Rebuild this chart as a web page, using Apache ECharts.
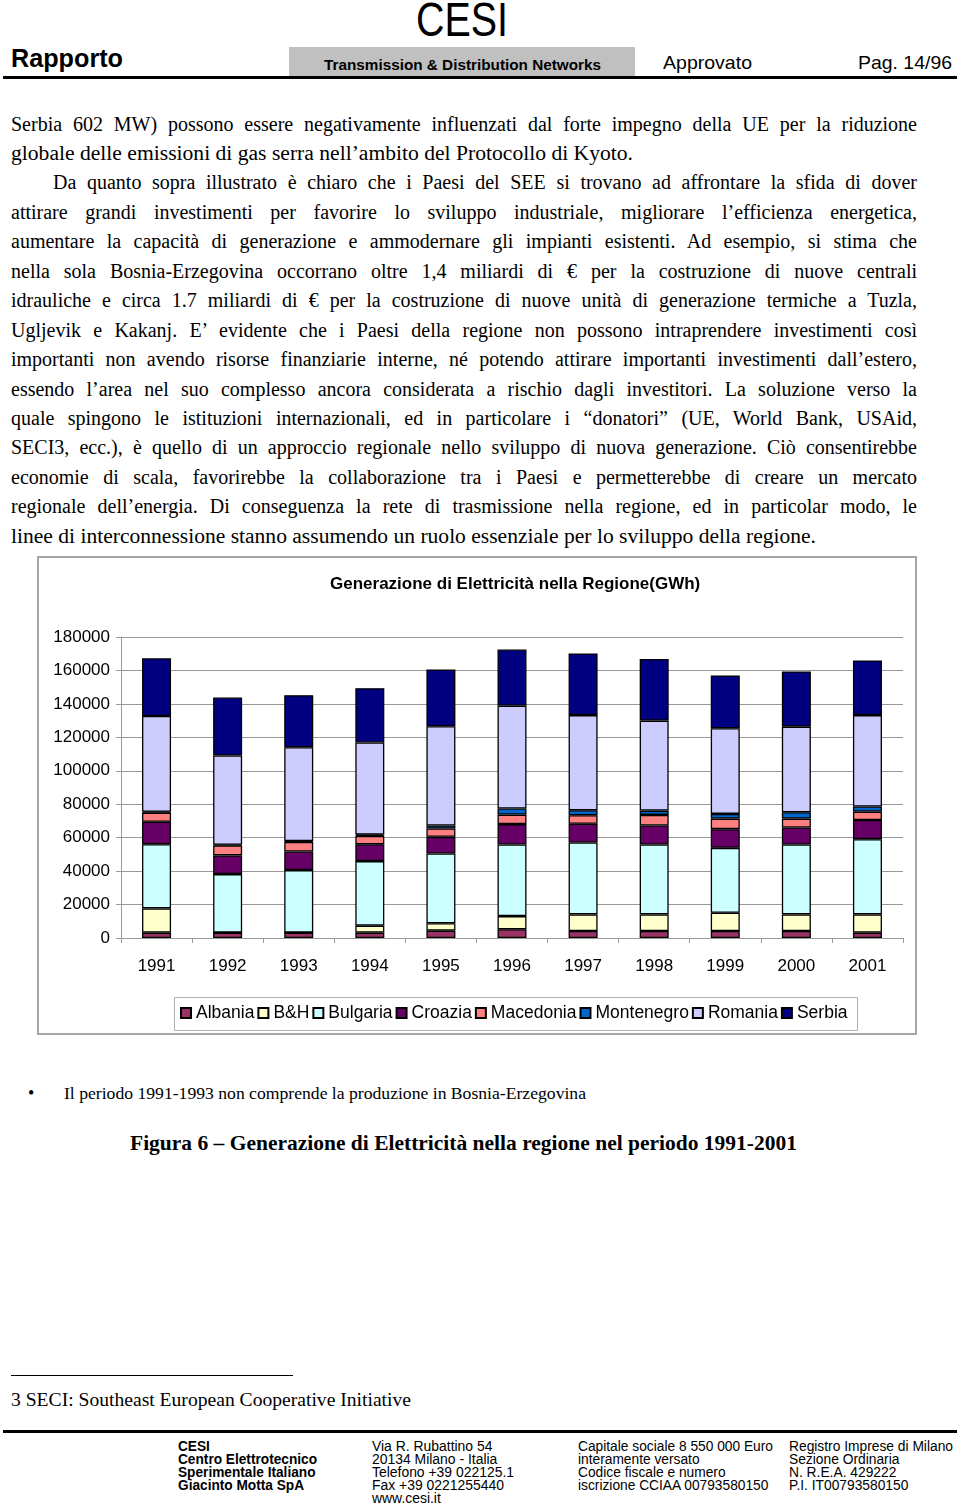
<!DOCTYPE html>
<html>
<head>
<meta charset="utf-8">
<script src="https://cdn.jsdelivr.net/npm/echarts@6/dist/echarts.min.js"></script>
<style>
html,body{margin:0;padding:0;background:#fff;width:960px;height:1506px;overflow:hidden;}
.t{position:absolute;white-space:nowrap;line-height:1;transform-origin:0 0;color:#000;}
.serif{font-family:"Liberation Serif","Times New Roman",serif;}
.sans{font-family:"Liberation Sans",Arial,sans-serif;}
.rule{position:absolute;background:#000;}
.foot{position:absolute;font-family:"Liberation Sans",Arial,sans-serif;font-size:14px;line-height:13px;transform-origin:0 0;white-space:nowrap;}
.foot span{display:inline-block;}
</style>
</head>
<body>
<!-- header -->
<div class="t sans" style="left:416px;top:-4px;font-size:48px;" data-w="92">CESI</div>
<div class="t sans" style="left:11px;top:46px;font-size:25px;font-weight:bold;" data-w="112">Rapporto</div>
<div style="position:absolute;left:289px;top:47px;width:346px;height:30px;background:#c0c0c0;"></div>
<div class="t sans" style="left:324px;top:57px;font-size:15px;font-weight:bold;" data-w="277">Transmission &amp; Distribution Networks</div>
<div class="t sans" style="left:663px;top:53px;font-size:19px;" data-w="89">Approvato</div>
<div class="t sans" style="left:858px;top:53px;font-size:19px;" data-w="94">Pag. 14/96</div>
<div class="rule" style="left:3px;top:76px;width:954px;height:3px;"></div>

<!-- body text -->
<div id="body"></div>

<!-- chart -->
<div id="chart" style="position:absolute;left:37px;top:556px;width:880px;height:479px;"></div>

<div class="t serif" style="left:28px;top:1084px;font-size:18px;">•</div>
<div class="t serif" style="left:64px;top:1086px;font-size:16.5px;" data-w="522">Il periodo 1991-1993 non comprende la produzione in Bosnia-Erzegovina</div>
<div class="t serif" style="left:130px;top:1132px;font-size:22px;font-weight:bold;" data-w="667">Figura 6 – Generazione di Elettricità nella regione nel periodo 1991-2001</div>

<div class="rule" style="left:11px;top:1375px;width:282px;height:1px;"></div>
<div class="t serif" style="left:11px;top:1390px;font-size:19px;" data-w="400">3 SECI: Southeast European Cooperative Initiative</div>

<div class="rule" style="left:3px;top:1430px;width:954px;height:3px;"></div>
<div class="foot" style="left:178px;top:1440px;font-weight:bold;" data-cw="139">
<div><span>CESI</span></div><div><span data-ref="1">Centro Elettrotecnico</span></div><div><span>Sperimentale Italiano</span></div><div><span>Giacinto Motta SpA</span></div>
</div>
<div class="foot" style="left:372px;top:1440px;" data-cw="142">
<div><span>Via R. Rubattino 54</span></div><div><span>20134 Milano - Italia</span></div><div><span data-ref="1">Telefono +39 022125.1</span></div><div><span>Fax +39 0221255440</span></div><div><span>www.cesi.it</span></div>
</div>
<div class="foot" style="left:578px;top:1440px;" data-cw="195">
<div><span data-ref="1">Capitale sociale 8 550 000 Euro</span></div><div><span>interamente versato</span></div><div><span>Codice fiscale e numero</span></div><div><span>iscrizione CCIAA 00793580150</span></div>
</div>
<div class="foot" style="left:789px;top:1440px;" data-cw="164">
<div><span data-ref="1">Registro Imprese di Milano</span></div><div><span>Sezione Ordinaria</span></div><div><span>N. R.E.A. 429222</span></div><div><span>P.I. IT00793580150</span></div>
</div>

<script>
// ---------- page text ----------
const bodyLines = [
  ["Serbia 602 MW) possono essere negativamente influenzati dal forte impegno della UE per la riduzione", 11, 906, true],
  ["globale delle emissioni di gas serra nell’ambito del Protocollo di Kyoto.", 11, 622, false],
  ["Da quanto sopra illustrato è chiaro che i Paesi del SEE si trovano ad affrontare la sfida di dover", 53, 864, true],
  ["attirare grandi investimenti per favorire lo sviluppo industriale, migliorare l’efficienza energetica,", 11, 906, true],
  ["aumentare la capacità di generazione e ammodernare gli impianti esistenti. Ad esempio, si stima che", 11, 906, true],
  ["nella sola Bosnia-Erzegovina occorrano oltre 1,4 miliardi di € per la costruzione di nuove centrali", 11, 906, true],
  ["idrauliche e circa 1.7 miliardi di € per la costruzione di nuove unità di generazione termiche a Tuzla,", 11, 906, true],
  ["Ugljevik e Kakanj. E’ evidente che i Paesi della regione non possono intraprendere investimenti così", 11, 906, true],
  ["importanti non avendo risorse finanziarie interne, né potendo attirare importanti investimenti dall’estero,", 11, 906, true],
  ["essendo l’area nel suo complesso ancora considerata a rischio dagli investitori. La soluzione verso la", 11, 906, true],
  ["quale spingono le istituzioni internazionali, ed in particolare i “donatori” (UE, World Bank, USAid,", 11, 906, true],
  ["SECI3, ecc.), è quello di un approccio regionale nello sviluppo di nuova generazione. Ciò consentirebbe", 11, 906, true],
  ["economie di scala, favorirebbe la collaborazione tra i Paesi e permetterebbe di creare un mercato", 11, 906, true],
  ["regionale dell’energia. Di conseguenza la rete di trasmissione nella regione, ed in particolar modo, le", 11, 906, true],
  ["linee di interconnessione stanno assumendo un ruolo essenziale per lo sviluppo della regione.", 11, 805, false]
];
const bodyEl = document.getElementById('body');
bodyLines.forEach((l, i) => {
  const d = document.createElement('div');
  d.className = 't serif';
  d.style.left = l[1] + 'px';
  d.style.top = (113.5 + i * 29.45) + 'px';
  d.style.fontSize = '20px';
  d.textContent = l[0];
  if (l[3]) d.dataset.j = l[2]; else d.dataset.w = l[2];
  bodyEl.appendChild(d);
});
document.querySelectorAll('[data-j]').forEach(el => {
  const target = +el.dataset.j;
  const nat = el.getBoundingClientRect().width;
  const spaces = (el.textContent.match(/ /g) || []).length;
  let ws = (target - nat) / spaces;
  if (ws < -2) { el.style.transform = 'scaleX(' + (target / nat) + ')'; }
  else el.style.wordSpacing = ws + 'px';
});
document.querySelectorAll('[data-w]').forEach(el => {
  const w = +el.dataset.w;
  const nat = el.getBoundingClientRect().width;
  el.style.transform = 'scaleX(' + (w / nat) + ')';
});
document.querySelectorAll('[data-cw]').forEach(el => {
  const w = +el.dataset.cw;
  const ref = el.querySelector('[data-ref]');
  const nat = ref.getBoundingClientRect().width;
  el.style.transform = 'scaleX(' + (w / nat) + ')';
});

// ---------- chart data ----------
const years = ['1991','1992','1993','1994','1995','1996','1997','1998','1999','2000','2001'];
const countries = ['Albania','B&H','Bulgaria','Croazia','Macedonia','Montenegro','Romania','Serbia'];
const colors = ['#993366','#FFFFCC','#CCFFFF','#660066','#FF8080','#0066CC','#CCCCFF','#000080'];
const albania    = [3200, 3200, 3200, 3200, 4400, 5200, 4200, 4200, 4200, 4200, 3200];
const bih        = [14500, 0, 0, 4200, 4400, 7900, 9900, 9900, 10900, 9900, 10900];
const bulgaria   = [38400, 35000, 37400, 38600, 41700, 42800, 43000, 41800, 38800, 41800, 45000];
const croazia    = [13400, 11200, 11100, 10100, 10000, 12200, 11200, 11400, 11200, 10200, 11500];
const macedonia  = [5500, 5900, 5800, 5000, 5000, 5700, 5100, 6300, 6300, 5300, 5000];
const montenegro = [500, 500, 500, 700, 1800, 3600, 3000, 2600, 2800, 3800, 3000];
const romania    = [57300, 53300, 56100, 55100, 59300, 61500, 56900, 53800, 51200, 51200, 54700];
const serbia     = [34500, 34700, 31100, 32500, 34000, 33600, 36900, 36800, 31600, 33000, 32700];
const seriesValues = [albania, bih, bulgaria, croazia, macedonia, montenegro, romania, serbia];
const yMin = 0, yMax = 180000, yInterval = 20000;
const chartTitle = 'Generazione di Elettricità nella Regione(GWh)';

const FONT = '"Liberation Sans", Arial, sans-serif';
const chart = echarts.init(document.getElementById('chart'), null, {renderer: 'canvas'});
chart.setOption({
  animation: false,
  backgroundColor: '#fff',
  title: {
    text: chartTitle, left: 288, top: 15,
    textStyle: {fontFamily: FONT, fontSize: 17, fontWeight: 'bold', color: '#000'}
  },
  graphic: [
    {type: 'rect', shape: {x: 1, y: 1, width: 878, height: 477}, style: {fill: null, stroke: '#a6a6a6', lineWidth: 2}, silent: true, z: -1},
    {type: 'rect', shape: {x: 137.5, y: 441.5, width: 683, height: 33}, style: {fill: null, stroke: '#b0b0b0', lineWidth: 1}, silent: true, z: -1}
  ],
  legend: {
    data: countries, left: 143, top: 448, padding: 0,
    itemWidth: 10, itemHeight: 10, itemGap: 3, icon: 'rect',
    textStyle: {fontFamily: FONT, fontSize: 17.5, color: '#000'}
  },
  grid: {left: 84, right: 14, top: 81, bottom: 97},
  xAxis: {
    type: 'category', data: years,
    axisLine: {lineStyle: {color: '#999', width: 1}},
    axisTick: {show: true, length: 5, lineStyle: {color: '#999'}},
    axisLabel: {color: '#000', fontSize: 17, fontFamily: FONT, margin: 20}
  },
  yAxis: {
    type: 'value', min: yMin, max: yMax, interval: yInterval,
    axisLine: {show: true, lineStyle: {color: '#999', width: 1}},
    axisTick: {show: true, length: 5, lineStyle: {color: '#999'}},
    axisLabel: {color: '#000', fontSize: 17, fontFamily: FONT, margin: 11, formatter: v => String(v)},
    splitLine: {lineStyle: {color: '#999', width: 1}}
  },
  series: countries.map((name, i) => ({
    name: name, type: 'bar', stack: 'total', data: seriesValues[i], barWidth: 29,
    itemStyle: {color: colors[i], borderColor: '#000', borderWidth: 1.3}
  }))
});
</script>
</body>
</html>
